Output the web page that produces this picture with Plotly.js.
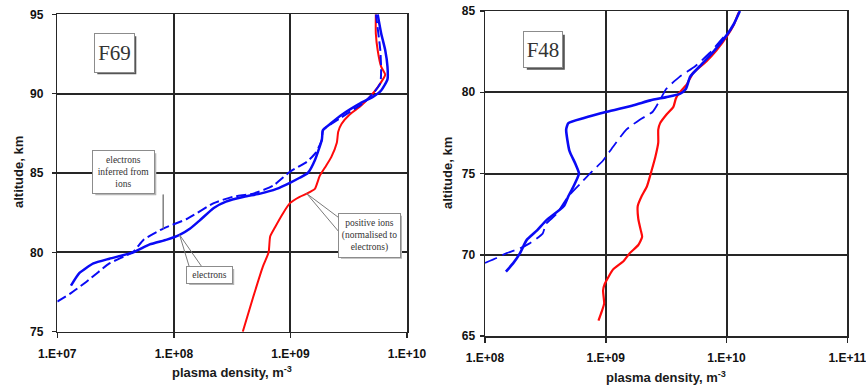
<!DOCTYPE html>
<html>
<head>
<meta charset="utf-8">
<script src="https://cdn.plot.ly/plotly-3.0.1.min.js"></script>
<style>
  html, body { margin: 0; padding: 0; background: #fff; }
  #chart { width: 866px; height: 386px; }
</style>
</head>
<body>
<div id="chart"></div>
<script>
// ---- Flight F69: altitude (km) and plasma density (m^-3) ----
const f69IonAlt = [75.0, 77.2, 79.1, 80.0, 81.0, 81.6, 82.5, 83.1, 83.5, 83.7, 84.0, 84.8, 85.4, 86.0, 86.9, 87.6, 88.1, 88.7, 89.2, 89.8, 90.4, 91.2, 91.7, 92.75, 93.8, 95.0];
const f69IonDen = [3.9e8, 4.8e8, 5.8e8, 6.5e8, 6.7e8, 7.4e8, 8.7e8, 9.9e8, 1.2e9, 1.38e9, 1.62e9, 1.78e9, 2.0e9, 2.24e9, 2.5e9, 2.57e9, 2.75e9, 3.24e9, 3.98e9, 4.8e9, 5.6e9, 6.5e9, 6.0e9, 5.6e9, 5.4e9, 5.4e9];

const f69ElecAlt = [77.9, 78.7, 79.3, 79.6, 80.0, 80.5, 80.8, 81.1, 81.5, 82.0, 82.8, 83.2, 83.5, 83.7, 84.0, 84.4, 84.7, 85.0, 85.8, 87.1, 87.7, 88.1, 88.7, 89.4, 89.8, 90.2, 90.9, 91.7, 92.75, 93.8, 95.0];
const f69ElecDen = [1.31e7, 1.55e7, 2.04e7, 2.8e7, 4.5e7, 6.2e7, 8.7e7, 1.12e8, 1.38e8, 1.66e8, 2.2e8, 2.8e8, 4.0e8, 5.5e8, 7.6e8, 1.0e9, 1.2e9, 1.41e9, 1.62e9, 1.86e9, 1.9e9, 2.2e9, 2.8e9, 4.0e9, 5.1e9, 6.0e9, 6.8e9, 6.8e9, 6.5e9, 6.0e9, 5.6e9];

const f69InfAlt = [76.9, 77.4, 78.15, 79.3, 80.05, 80.8, 81.5, 82.1, 83.1, 83.5, 83.7, 84.2, 85.1, 85.7, 86.3, 87.1, 87.7, 88.4, 89.4, 90.0, 90.65, 91.5, 92.75, 94.6, 95.0];
const f69InfDen = [1.0e7, 1.29e7, 1.78e7, 2.8e7, 4.5e7, 5.5e7, 8.1e7, 1.29e8, 2.2e8, 3.2e8, 4.8e8, 7.1e8, 1.0e9, 1.38e9, 1.66e9, 1.86e9, 1.9e9, 2.6e9, 4.2e9, 5.1e9, 5.9e9, 6.0e9, 5.9e9, 5.5e9, 5.4e9];

// ---- Flight F48 ----
const f48IonAlt = [65.94, 66.5, 67.0, 67.8, 68.2, 69.1, 69.6, 70.1, 70.6, 71.1, 71.5, 72.2, 73.0, 73.6, 74.2, 75.2, 76.0, 76.9, 77.7, 78.1, 78.6, 79.1, 79.6, 79.9, 80.5, 81.2, 81.9, 82.6, 83.4, 84.1, 84.9];
const f48IonDen = [8.7e8, 9.25e8, 9.7e8, 9.5e8, 9.8e8, 1.15e9, 1.4e9, 1.58e9, 1.86e9, 2.0e9, 1.95e9, 1.86e9, 1.84e9, 1.98e9, 2.19e9, 2.4e9, 2.57e9, 2.72e9, 2.72e9, 2.82e9, 3.16e9, 3.63e9, 3.8e9, 4.0e9, 4.7e9, 5.3e9, 6.8e9, 8.3e9, 1.0e10, 1.14e10, 1.26e10];

const f48ElecAlt = [68.96, 69.5, 70.1, 70.9, 71.5, 72.1, 73.0, 73.6, 74.2, 75.0, 75.6, 76.4, 77.7, 78.1, 78.4, 78.8, 79.2, 79.5, 79.7, 79.9, 80.2, 80.96, 81.6, 82.5, 83.5, 84.2, 85.0];
const f48ElecDen = [1.49e8, 1.72e8, 1.95e8, 2.21e8, 2.7e8, 3.2e8, 4.5e8, 4.9e8, 5.4e8, 6.0e8, 5.6e8, 5.0e8, 4.7e8, 4.9e8, 6.5e8, 1.02e9, 1.7e9, 2.34e9, 3.16e9, 4.1e9, 4.6e9, 5.0e9, 6.0e9, 7.8e9, 1.0e10, 1.15e10, 1.29e10];

const f48InfAlt = [69.5, 69.8, 70.1, 70.4, 70.7, 71.3, 71.9, 72.5, 73.6, 74.4, 75.0, 75.8, 76.65, 77.7, 78.3, 78.8, 79.7, 80.2, 80.96, 81.6, 82.4, 83.6];
const f48InfDen = [1.0e8, 1.25e8, 1.51e8, 1.95e8, 2.34e8, 3.0e8, 3.2e8, 3.9e8, 4.9e8, 6.2e8, 7.4e8, 9.5e8, 1.15e9, 1.48e9, 1.9e9, 2.45e9, 2.9e9, 3.16e9, 4.1e9, 5.5e9, 7.2e9, 1.0e10];

// ---- Axis ticks ----
const f69DenTicks = [1e7, 1e8, 1e9, 1e10];
const f69DenLabels = ['1.E+07', '1.E+08', '1.E+09', '1.E+10'];
const f48DenTicks = [1e8, 1e9, 1e10, 1e11];
const f48DenLabels = ['1.E+08', '1.E+09', '1.E+10', '1.E+11'];

const BLUE = '#0a0af5';
const RED = '#ff0a0a';
const INK = '#262626';

function curve(x, y, xa, ya, color, width, dash) {
  return {
    type: 'scatter', mode: 'lines', x: x, y: y, xaxis: xa, yaxis: ya,
    line: { color: color, width: width, dash: dash || 'solid', shape: 'spline', smoothing: 0.5 },
    hoverinfo: 'skip'
  };
}

const traces = [
  curve(f69IonDen, f69IonAlt, 'x', 'y', RED, 2),
  curve(f69InfDen, f69InfAlt, 'x', 'y', BLUE, 2, '10px,4px'),
  curve(f69ElecDen, f69ElecAlt, 'x', 'y', BLUE, 2.5),
  curve(f48IonDen, f48IonAlt, 'x2', 'y2', RED, 2.2),
  curve(f48InfDen, f48InfAlt, 'x2', 'y2', BLUE, 1.8, '13px,6px'),
  curve(f48ElecDen, f48ElecAlt, 'x2', 'y2', BLUE, 2.6)
];

const tickFont = { family: 'Liberation Sans, Arial, sans-serif', size: 12, weight: 'bold', color: '#111' };

function denAxis(domain, range, vals, labels) {
  return {
    type: 'log', domain: domain, range: range,
    tickmode: 'array', tickvals: vals, ticktext: labels,
    ticks: 'outside', ticklen: 5, tickwidth: 1.5, tickcolor: INK,
    showline: true, mirror: true, linecolor: INK, linewidth: 1.5,
    showgrid: true, gridcolor: INK, gridwidth: 2,
    tickfont: tickFont, ticklabelstandoff: 5, ticklabeloverflow: 'allow',
    fixedrange: true
  };
}
function altAxis(domain, range, anchor, standoff) {
  return {
    anchor: anchor, domain: domain, range: range,
    tick0: range[0], dtick: 5,
    ticks: 'outside', ticklen: 4, tickwidth: 1.5, tickcolor: INK,
    showline: true, mirror: true, linecolor: INK, linewidth: 1.5,
    showgrid: true, gridcolor: INK, gridwidth: 2, zeroline: false,
    tickfont: tickFont, ticklabelstandoff: standoff, fixedrange: true
  };
}

const W = 866, H = 386;
const px = v => v / W;
const py = v => 1 - v / H;

const serif = 'Liberation Serif, Times New Roman, serif';
const titleFont = { family: 'Liberation Sans, Arial, sans-serif', size: 13, weight: 'bold', color: '#1a1a1a' };

function boxNote(cx, cy, w, h, text, size) {
  return {
    xref: 'paper', yref: 'paper', x: px(cx), y: py(cy), xanchor: 'center', yanchor: 'middle',
    text: text, showarrow: false, width: w, height: h, align: 'center', valign: 'middle',
    bgcolor: '#fff', bordercolor: '#8c8c8c', borderwidth: 1, borderpad: 0,
    font: { family: serif, size: size, color: '#333' }
  };
}
// leader line from a point on a curve out to the edge of its callout box
// (anchored at the data point, other end offset in pixels; dy positive = downward)
function leader(xa, ya, den, alt, dx, dy) {
  return {
    type: 'line', xref: xa, yref: ya, layer: 'above',
    xsizemode: 'pixel', ysizemode: 'pixel', xanchor: den, yanchor: alt,
    x0: 0, y0: 0, x1: dx, y1: -dy,
    line: { color: '#7a7a7a', width: 1 }
  };
}
function shadow(x0, y0, x1, y1, d, color) {
  return {
    type: 'rect', xref: 'paper', yref: 'paper', layer: 'above',
    x0: px(x0 + d), x1: px(x1 + d), y0: py(y1 + d), y1: py(y0 + d),
    fillcolor: color, line: { width: 0 }
  };
}

const annotations = [
  // axis titles
  { xref: 'paper', yref: 'paper', x: px(232), y: py(372), text: 'plasma density, m<sup>-3</sup>', showarrow: false, font: titleFont, xanchor: 'center', yanchor: 'middle' },
  { xref: 'paper', yref: 'paper', x: px(666), y: py(377), text: 'plasma density, m<sup>-3</sup>', showarrow: false, font: titleFont, xanchor: 'center', yanchor: 'middle' },
  { xref: 'paper', yref: 'paper', x: px(18), y: py(172), text: 'altitude, km', textangle: -90, showarrow: false, font: titleFont, xanchor: 'center', yanchor: 'middle' },
  { xref: 'paper', yref: 'paper', x: px(447), y: py(173), text: 'altitude, km', textangle: -90, showarrow: false, font: titleFont, xanchor: 'center', yanchor: 'middle' },

  // flight labels
  boxNote(114.7, 53.3, 39, 38, 'F69', 21),
  boxNote(543.3, 49.3, 38, 35, 'F48', 21),

  // callouts
  boxNote(123.8, 172.3, 61, 42, 'electrons<br>inferred from<br>ions', 9.5),
  boxNote(209.7, 275, 45, 16, 'electrons', 9.5),
  boxNote(369.5, 235.3, 61, 43, 'positive ions<br>(normalised to<br>electrons)', 9.5)
];

const shapes = [
  leader('x', 'y', f69InfDen[6], f69InfAlt[6], -32, -34),
  leader('x', 'y', f69InfDen[6], f69InfAlt[6], -17, -34),
  leader('x', 'y', f69ElecDen[7], f69ElecAlt[7], 10, 33),
  leader('x', 'y', f69ElecDen[7], f69ElecAlt[7], 23, 33),
  leader('x', 'y', f69IonDen[9], f69IonAlt[9], 32, 24),
  leader('x', 'y', f69IonDen[9], f69IonAlt[9], 32, 38),

  shadow(94.3, 33.3, 133.3, 71.3, 3, '#555'),
  shadow(523.8, 31.8, 561.8, 66.8, 3, '#555'),
  shadow(93.3, 151.3, 154.3, 193.3, 2, '#b5b5b5'),
  shadow(187.2, 267, 232.2, 283, 2, '#b5b5b5'),
  shadow(339, 213.8, 400, 256.8, 2, '#b5b5b5')
];

const layout = {
  width: W, height: H,
  margin: { l: 0, r: 0, t: 0, b: 0, pad: 0 },
  paper_bgcolor: '#fff', plot_bgcolor: '#fff',
  showlegend: false,
  xaxis: Object.assign(denAxis([57.3 / W, 407 / W], [7, 10], f69DenTicks, f69DenLabels), { anchor: 'y' }),
  yaxis: altAxis([1 - 331.7 / H, 1 - 14.3 / H], [75, 95], 'x', 6),
  xaxis2: Object.assign(denAxis([485 / W, 847.3 / W], [8, 11], f48DenTicks, f48DenLabels), { anchor: 'y2' }),
  yaxis2: altAxis([1 - 336 / H, 1 - 11 / H], [65, 85], 'x2', 2),
  annotations: annotations,
  shapes: shapes
};

Plotly.newPlot('chart', traces, layout, { staticPlot: true, displayModeBar: false });
</script>
</body>
</html>
